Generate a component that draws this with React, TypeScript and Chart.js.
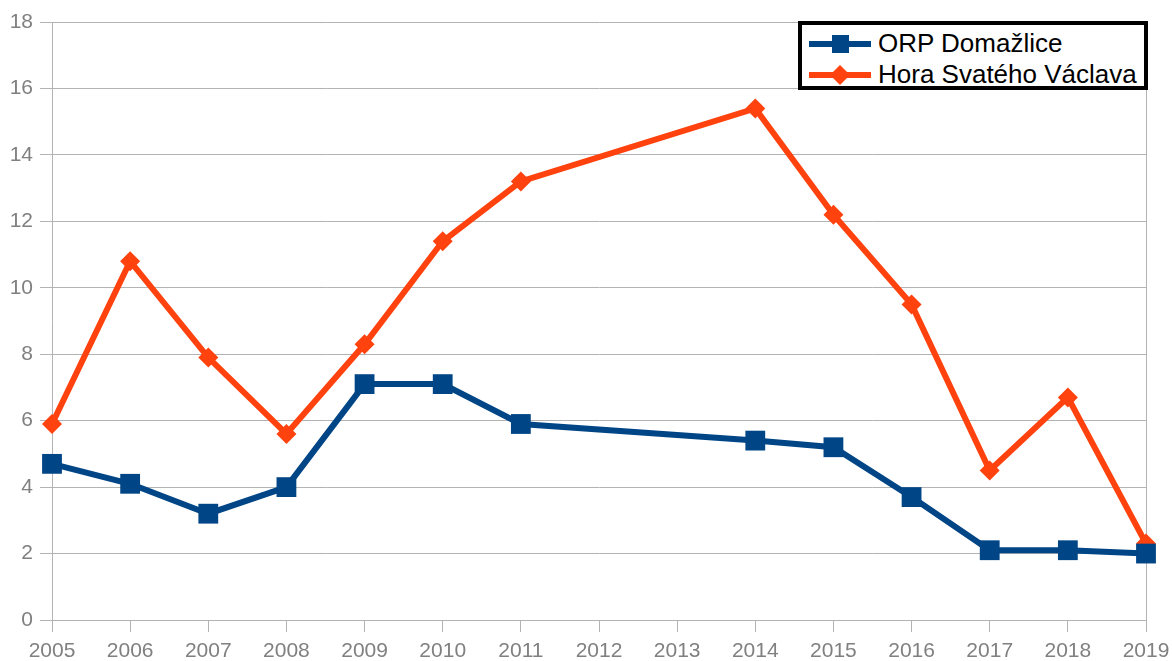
import React, { useEffect, useRef } from "react";
import { Chart, registerables } from "chart.js";

Chart.register(...registerables);

const years = [2005, 2006, 2007, 2008, 2009, 2010, 2011, 2014, 2015, 2016, 2017, 2018, 2019];
const orpDomazlice = [4.7, 4.1, 3.2, 4.0, 7.1, 7.1, 5.9, 5.4, 5.2, 3.7, 2.1, 2.1, 2.0];
const horaSvatehoVaclava = [5.9, 10.8, 7.9, 5.6, 8.3, 11.4, 13.2, 15.4, 12.2, 9.5, 4.5, 6.7, 2.3];
const seriesNames = ["ORP Domažlice", "Hora Svatého Václava"];
const seriesColors = ["#004586", "#ff420e"];
const xMin = 2005;
const xMax = 2019;
const yMin = 0;
const yMax = 18;
const yStep = 2;

const FONT = "'Liberation Sans', Arial, sans-serif";
const GRID = "#b3b3b3";
const TICK_TEXT = "#808080";

export default function App() {
  const canvasRef = useRef<HTMLCanvasElement | null>(null);

  useEffect(() => {
    document.body.style.margin = "0";
    const canvas = canvasRef.current;
    if (!canvas) return;
    const toPoints = (vals: number[]) => years.map((x, i) => ({ x, y: vals[i] }));
    const chart = new Chart(canvas, {
      type: "line",
      data: {
        datasets: [
          {
            label: seriesNames[0],
            data: toPoints(orpDomazlice),
            borderColor: seriesColors[0],
            backgroundColor: seriesColors[0],
            borderWidth: 6,
            tension: 0,
            pointStyle: "rect",
            pointRadius: 14,
            pointHoverRadius: 14,
            pointBorderWidth: 0,
            clip: false as any,
          },
          {
            label: seriesNames[1],
            data: toPoints(horaSvatehoVaclava),
            borderColor: seriesColors[1],
            backgroundColor: seriesColors[1],
            borderWidth: 6,
            tension: 0,
            pointStyle: "rectRot",
            pointRadius: 10,
            pointHoverRadius: 10,
            pointBorderWidth: 0,
            clip: false as any,
          },
        ],
      },
      options: {
        animation: false,
        responsive: false,
        devicePixelRatio: 1,
        events: [],
        layout: { padding: { top: 22, right: 26, left: 0, bottom: 0 } },
        plugins: {
          legend: { display: false },
          tooltip: { enabled: false },
        },
        scales: {
          x: {
            type: "linear",
            min: xMin,
            max: xMax,
            ticks: {
              stepSize: 1,
              color: TICK_TEXT,
              font: { family: FONT, size: 21 },
              padding: 7,
              callback: (v: any) => String(v),
              maxRotation: 0,
              autoSkip: false,
            },
            grid: {
              drawOnChartArea: true,
              color: (ctx: any) => (ctx.tick && ctx.tick.value === xMax ? GRID : "rgba(0,0,0,0)"),
              tickColor: GRID,
              tickLength: 12,
              lineWidth: 1,
            },
            border: { color: GRID, width: 1 },
            afterFit: (scale: any) => {
              scale.height = 41;
              scale.paddingLeft = 0;
              scale.paddingRight = 0;
            },
          },
          y: {
            min: yMin,
            max: yMax,
            ticks: {
              stepSize: yStep,
              color: TICK_TEXT,
              font: { family: FONT, size: 21 },
              padding: 7,
            },
            grid: {
              color: GRID,
              tickColor: GRID,
              tickLength: 12,
              lineWidth: 1,
            },
            border: { color: GRID, width: 1 },
            afterFit: (scale: any) => {
              scale.width = 52;
              scale.paddingTop = 0;
              scale.paddingBottom = 0;
            },
          },
        },
      },
    });
    return () => chart.destroy();
  }, []);

  return (
    <div style={{ position: "absolute", left: 0, top: 0, width: 1172, height: 661, background: "#fff" }}>
      <canvas ref={canvasRef} width={1172} height={661} style={{ display: "block" }} />
      <div
        style={{
          position: "absolute",
          left: 798,
          top: 21,
          width: 350,
          height: 69,
          boxSizing: "border-box",
          border: "4px solid #000",
          background: "#fff",
          fontFamily: FONT,
          fontSize: 26,
          color: "#000",
        }}
      >
        {seriesNames.map((name, i) => (
          <div
            key={name}
            style={{ position: "absolute", left: 0, top: i === 0 ? 3 : 34, height: 31, width: 342, display: "flex", alignItems: "center" }}
          >
            <svg width={62} height={24} style={{ marginLeft: 7, flex: "0 0 auto" }}>
              <line x1={0} y1={12} x2={62} y2={12} stroke={seriesColors[i]} strokeWidth={6} />
              {i === 0 ? (
                <rect x={23} y={3} width={17} height={18} fill={seriesColors[i]} />
              ) : (
                <polygon points="31,2 41,12 31,22 21,12" fill={seriesColors[i]} />
              )}
            </svg>
            <span style={{ marginLeft: 7, whiteSpace: "nowrap", lineHeight: "31px" }}>{name}</span>
          </div>
        ))}
      </div>
    </div>
  );
}
